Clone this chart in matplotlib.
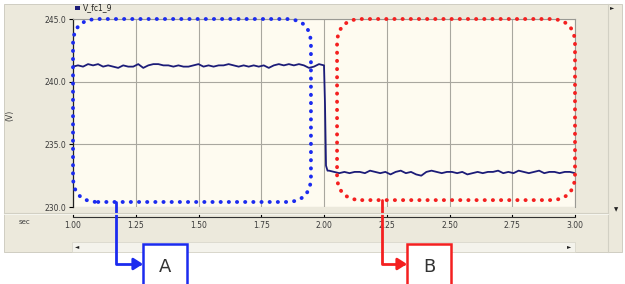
import numpy as np
import matplotlib.pyplot as plt
import matplotlib.patches as mpatches
import matplotlib.transforms as mtransforms

# voltage trace
t_before = (1.00, 2.00)
v_before = [241.2, 241.3, 241.2, 241.4, 241.3, 241.4, 241.2, 241.3, 241.2, 241.1,
            241.3, 241.2, 241.2, 241.4, 241.1, 241.3, 241.4, 241.4, 241.3, 241.3,
            241.2, 241.3, 241.2, 241.2, 241.3, 241.4, 241.2, 241.3, 241.2, 241.3,
            241.3, 241.4, 241.3, 241.2, 241.3, 241.2, 241.3, 241.2, 241.3, 241.1,
            241.3, 241.4, 241.3, 241.4, 241.3, 241.4, 241.3, 241.1, 241.2, 241.4,
            241.3]
t_step = [2.004, 2.008, 2.014]
v_step = [238.2, 233.3, 232.9]
t_after = (2.02, 3.00)
v_after = [232.9, 232.8, 232.7, 232.8, 232.7, 232.8, 232.8, 232.7, 232.9, 232.8,
           232.7, 232.8, 232.6, 232.8, 232.9, 232.7, 232.8, 232.6, 232.5, 232.8,
           232.9, 232.8, 232.7, 232.8, 232.8, 232.7, 232.8, 232.6, 232.7, 232.8,
           232.7, 232.8, 232.8, 232.9, 232.7, 232.8, 232.7, 232.9, 232.8, 232.7,
           232.8, 232.9, 232.7, 232.8, 232.8, 232.7, 232.8, 232.8, 232.7]

x_ticks = [1.00, 1.25, 1.50, 1.75, 2.00, 2.25, 2.50, 2.75, 3.00]
x_labels = ['1.00', '1.25', '1.50', '1.75', '2.00', '2.25', '2.50', '2.75', '3.00']
y_ticks = [230.0, 235.0, 240.0, 245.0]
y_labels = ['230.0', '235.0', '240.0', '245.0']
series_name = 'V_fc1_9'

# highlighted regions: label, t0, t1, v0, v1, connector t, colour, box left (px)
regions = [('A', 1.00, 1.948, 230.4, 245.0, 1.17, '#1b2bef', 143),
           ('B', 2.052, 3.00, 230.55, 245.0, 2.23, '#f42020', 407)]

W, H = 625, 284
fig = plt.figure(figsize=(W / 100, H / 100), dpi=100, facecolor='white')
# pixel coordinates, origin top-left
px = mtransforms.Affine2D().scale(1 / W, -1 / H).translate(0, 1) + fig.transFigure

panel = '#ece9dc'
fig.patches.append(mpatches.Rectangle((4, 4), 618, 248, transform=px,
                                      facecolor=panel, edgecolor='#c9c7bb', lw=0.6, zorder=-3))
fig.lines.append(plt.Line2D([608, 608], [4, 252], transform=px, color='#d2d0c4', lw=0.8))
fig.lines.append(plt.Line2D([4, 608], [213, 213], transform=px, color='#d2d0c4', lw=0.8))
fig.lines.append(plt.Line2D([4, 608], [214, 214], transform=px, color='#f8f8f2', lw=0.6))
# scrollbar
fig.patches.append(mpatches.Rectangle((72, 242), 503, 10, transform=px,
                                      facecolor='#f4f3ec', edgecolor='#d6d4c8', lw=0.5, zorder=-2))
fig.text(77 / W, 1 - 247 / H, '◄', fontsize=4, ha='center', va='center', color='#222')
fig.text(569 / W, 1 - 247 / H, '►', fontsize=4, ha='center', va='center', color='#222')
fig.text(612 / W, 1 - 8 / H, '►', fontsize=4, ha='center', va='center', color='#222')
fig.text(616 / W, 1 - 210 / H, '▼', fontsize=4, ha='center', va='center', color='#222')

ax = fig.add_axes([73 / W, 1 - 207 / H, 502 / W, 188 / H])
ax.set_facecolor('#fefbf0')

t1 = np.linspace(t_before[0], t_before[1], len(v_before))
t2 = np.linspace(t_after[0], t_after[1], len(v_after))
t_all = np.concatenate([t1, t_step, t2])
v_all = np.concatenate([v_before, v_step, v_after])
ax.plot(t_all, v_all, color='#1c1c78', lw=1.3, zorder=3)

ax.set_xlim(1.0, 3.0)
ax.set_ylim(230.0, 245.0)
ax.set_xticks(x_ticks, x_labels)
ax.set_yticks(y_ticks, y_labels)
ax.grid(True, color='#a9a79f', lw=0.8)
ax.set_axisbelow(True)

for s in ('top', 'right'):
    ax.spines[s].set_color('#9a9a94')
    ax.spines[s].set_linewidth(0.8)
ax.spines['left'].set_color('#222')
ax.spines['left'].set_linewidth(0.9)
ax.spines['bottom'].set_position(('outward', 7))
ax.spines['bottom'].set_color('#333')
ax.spines['bottom'].set_linewidth(0.8)
ax.tick_params(axis='y', direction='out', length=3, width=0.8, labelsize=5.5,
               labelcolor='#3a3a3a', pad=2)
ax.tick_params(axis='x', direction='in', length=2.5, width=0.8, labelsize=5.5,
               labelcolor='#3a3a3a', pad=3)

fig.text(10 / W, 1 - 115 / H, '(V)', rotation=90, fontsize=5.5, color='#3a3a3a',
         ha='center', va='center')
fig.text(25 / W, 1 - 222 / H, 'sec', fontsize=5, color='#3a3a3a', ha='center', va='center')
fig.patches.append(mpatches.Rectangle((75, 6), 5, 4, transform=px, facecolor='#1c1c78', zorder=3))
fig.text(83 / W, 1 - 8 / H, series_name, fontsize=5.5, color='#222', ha='left', va='center')

# dotted rounded frames with connectors and labelled boxes
x_px_per_unit = 502 / 2.0
y_px_per_unit = 188 / 15.0
aspect = x_px_per_unit / y_px_per_unit
for label, t0, t1_, v0, v1, tc, col, bx in regions:
    frame = mpatches.FancyBboxPatch((t0, v0), t1_ - t0, v1 - v0,
                                    boxstyle='round,pad=0,rounding_size=0.1',
                                    mutation_aspect=aspect, fill=False, edgecolor=col,
                                    lw=2.8, linestyle=(0, (0.05, 2.05)), clip_on=False, zorder=4)
    frame.set_capstyle('round')
    ax.add_patch(frame)
    ax.annotate('', xy=(bx, 264), xycoords=px, xytext=(tc, v0), textcoords='data',
                arrowprops=dict(arrowstyle='-|>,head_length=0.55,head_width=0.35',
                                connectionstyle='angle,angleA=90,angleB=0,rad=0',
                                color=col, lw=2.0, shrinkA=0, shrinkB=0),
                annotation_clip=False)
    fig.patches.append(mpatches.Rectangle((bx, 244), 44, 48, transform=px, facecolor='white',
                                          edgecolor=col, lw=1.8, zorder=5))
    fig.text((bx + 22) / W, 1 - 267 / H, label, fontsize=13, color='#333',
             ha='center', va='center', zorder=6)

fig.savefig('out.png', dpi=100, facecolor='white')
